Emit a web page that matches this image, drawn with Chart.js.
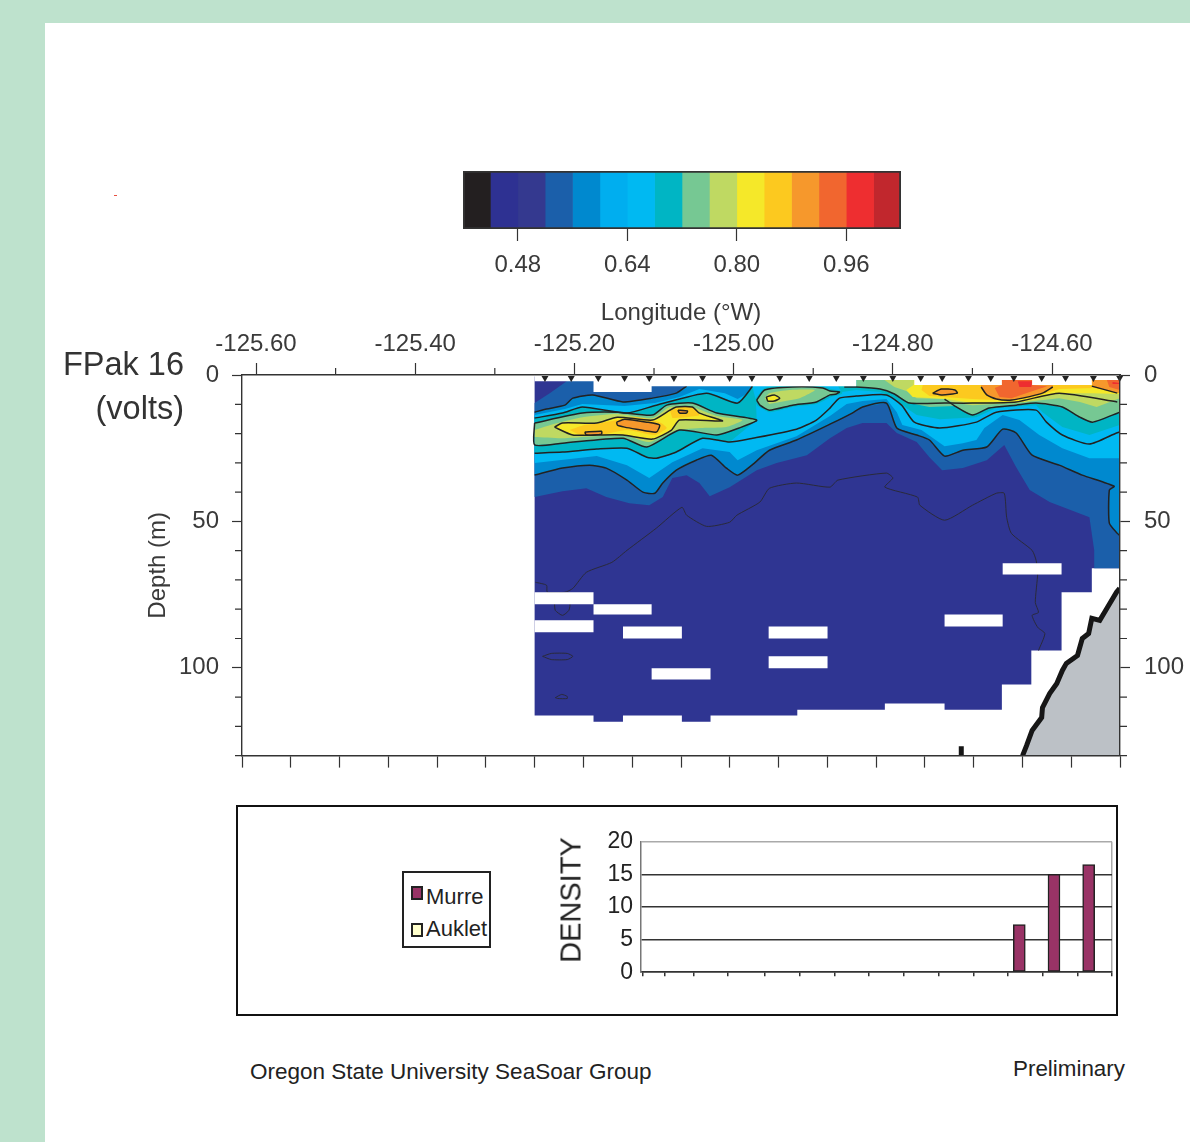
<!DOCTYPE html>
<html>
<head>
<meta charset="utf-8">
<title>FPak 16 section</title>
<script src="https://cdn.jsdelivr.net/npm/chart.js@4"></script>
<style>
  html, body { margin: 0; padding: 0; background: #bee2cd; }
  body { position: relative; width: 1190px; height: 1142px; overflow: hidden; font-family: "Liberation Sans", sans-serif; }
  #panel { position: absolute; left: 45px; top: 23px; width: 1145px; height: 1119px; background: #fff; }
  canvas, .txt, #box, #legend { position: absolute; }
  .txt { white-space: nowrap; line-height: 1; }
  #box { left: 236px; top: 805px; width: 880px; height: 209px; border: 2px solid #111; box-sizing: content-box; width: 878px; height: 207px; }
  #legend { left: 402px; top: 871px; width: 85px; height: 73px; border: 2px solid #222; background: #fff; }
  #legend i { position: absolute; left: 7px; width: 8px; height: 10px; border: 2px solid #222; }
  #legend span { position: absolute; left: 22px; font-size: 22px; color: #222; line-height: 1; }
</style>
</head>
<body>
<div id="panel"></div>
<div id="box"></div>
<canvas id="colorbar" width="490" height="140" style="left:440px;top:150px"></canvas>
<canvas id="section" width="1190" height="494" style="left:0;top:290px"></canvas>
<canvas id="density" width="565" height="174" style="left:550px;top:820px"></canvas>
<div id="legend"></div>
<div class="txt" style="right:1006px;top:348px;font-size:32.5px;color:#333">FPak 16</div>
<div class="txt" style="right:1006px;top:392px;font-size:32.5px;color:#333">(volts)</div>
<div class="txt" style="left:571px;top:899.5px;font-size:29px;color:#222;transform:translate(-50%,-50%) rotate(-90deg)">DENSITY</div>
<div class="txt" style="left:250px;top:1061px;font-size:22.5px;color:#222">Oregon State University SeaSoar Group</div>
<div class="txt" style="left:1013px;top:1058px;font-size:22.4px;color:#222">Preliminary</div>
<div style="position:absolute;left:114px;top:195px;width:3px;height:1px;background:#e85040"></div>

<script>
// colour scale
const levelEdges = [0.40, 0.44, 0.48, 0.52, 0.56, 0.60, 0.64, 0.68, 0.72, 0.76, 0.80, 0.84, 0.88, 0.92, 0.96, 1.00, 1.04];
const levelColors = ['#231f20', '#2e3192', '#34398f', '#1b5faa', '#0089cf', '#00aeef', '#00b9f2', '#00b5c4',
  '#76c893', '#bfd962', '#f5e829', '#fcc91f', '#f6982c', '#f1662f', '#ee2e30', '#c1272d'];
const colorbarTicks = [0.48, 0.64, 0.80, 0.96];

// section axes
const lonTicks = [-125.6, -125.4, -125.2, -125.0, -124.8, -124.6];
const lonMinorTicks = [-125.5, -125.3, -125.1, -124.9, -124.7];
const depthTicks = [0, 50, 100];
const depthMinorTicks = [10, 20, 30, 40, 60, 70, 80, 90, 110, 120, 130];
const stationLon = [-125.237, -125.204, -125.170, -125.137, -125.106, -125.075, -125.039, -125.005, -124.977, -124.942,
  -124.905, -124.871, -124.837, -124.800, -124.765, -124.738, -124.705, -124.677, -124.648, -124.613, -124.583, -124.548, -124.515];

// where the tow has data
const dataExtent = [[-125.25, 0.5], [-124.515, 0.5], [-124.515, 66.0], [-124.550, 66.0], [-124.550, 74.2], [-124.588, 74.2],
  [-124.588, 94.1], [-124.626, 94.1], [-124.626, 105.7], [-124.663, 105.7], [-124.663, 114.3], [-124.735, 114.3], [-124.735, 112.2],
  [-124.810, 112.2], [-124.810, 114.3], [-124.920, 114.3], [-124.920, 116.3], [-125.029, 116.3], [-125.029, 118.4], [-125.065, 118.4],
  [-125.065, 116.3], [-125.139, 116.3], [-125.139, 118.4], [-125.176, 118.4], [-125.176, 116.3], [-125.25, 116.3]];
const aboveData = [[-125.25, 2.1], [-125.176, 2.1], [-125.176, 5.8], [-125.103, 5.8], [-125.103, 3.8], [-124.846, 3.8], [-124.846, 1.7],
  [-124.773, 1.7], [-124.773, 3.4], [-124.663, 3.4], [-124.663, 1.7], [-124.625, 1.7], [-124.625, 3.4], [-124.550, 3.4], [-124.550, 1.7],
  [-124.515, 1.7], [-124.515, 0.2], [-125.25, 0.2]];
const gapLonStart = [-125.25, -125.25, -125.176, -125.139, -125.103, -124.956, -124.956, -124.662, -124.735];
const gapLonEnd = [-125.176, -125.176, -125.103, -125.065, -125.029, -124.882, -124.882, -124.588, -124.662];
const gapDepthTop = [74.2, 83.8, 78.3, 85.9, 100.2, 85.9, 96.1, 64.3, 81.8];
const gapDepthBottom = [78.3, 87.9, 81.8, 90.0, 104.0, 90.0, 100.2, 68.1, 85.9];

// band edges, lon / depth
const blueTop = [[-125.25, 9.6], [-125.231, 6.2], [-125.204, 1.0], [-124.515, 1.0], [-124.515, 66.0]];
const blueBottom = [[-125.25, 41.7], [-125.215, 39.7], [-125.185, 38.7], [-125.160, 41.7], [-125.131, 43.8], [-125.106, 44.5], [-125.089, 41.7],
  [-125.077, 35.2], [-125.059, 34.2], [-125.043, 36.9], [-125.030, 41.4], [-125.005, 38.3], [-124.971, 32.5], [-124.946, 30.1], [-124.908, 27.4],
  [-124.879, 21.6], [-124.858, 18.1], [-124.838, 16.4], [-124.808, 16.4], [-124.795, 19.8], [-124.770, 22.9], [-124.754, 28.1], [-124.738, 32.5],
  [-124.712, 31.8], [-124.682, 29.1], [-124.660, 23.9], [-124.645, 31.5], [-124.628, 39.3], [-124.603, 43.4], [-124.553, 48.6], [-124.547, 59.9], [-124.547, 66.0]];
const midTop = [[-125.25, 12.7], [-125.235, 11.6], [-125.212, 10.3], [-125.202, 7.9], [-125.177, 6.8], [-125.139, 9.2], [-125.102, 7.9], [-125.072, 6.2], [-125.059, 3.8]];
const midTopRest = [[-125.059, 1.0], [-124.515, 1.0], [-124.515, 54.8]];
const midBottom = [[-125.25, 34.2], [-125.215, 31.8], [-125.181, 30.8], [-125.160, 31.8], [-125.134, 35.9], [-125.114, 40.0], [-125.099, 40.4], [-125.089, 36.9],
  [-125.072, 32.5], [-125.047, 29.1], [-125.028, 27.4], [-125.009, 31.8], [-124.995, 34.2], [-124.977, 30.8], [-124.955, 25.7], [-124.921, 22.2], [-124.879, 16.8],
  [-124.851, 13.0], [-124.838, 10.9], [-124.808, 9.6], [-124.795, 18.1], [-124.770, 20.5], [-124.754, 22.2], [-124.735, 27.7], [-124.712, 25.7], [-124.682, 24.6],
  [-124.662, 18.5], [-124.645, 19.8], [-124.625, 27.4], [-124.591, 30.8], [-124.562, 34.2], [-124.522, 38.0], [-124.528, 39.3], [-124.528, 50.6], [-124.518, 54.1], [-124.515, 54.8]];
const cyanBand = [[-125.25, 13.7], [-125.212, 11.6], [-125.190, 9.9], [-125.137, 10.6], [-125.099, 9.6], [-125.068, 7.5], [-125.043, 4.8], [-125.011, 6.2], [-124.995, 8.2],
  [-124.982, 6.2], [-124.976, 3.4], [-124.976, 1.0], [-124.515, 1.0], [-124.515, 28.4], [-124.553, 28.4], [-124.587, 25.0], [-124.616, 20.5], [-124.641, 15.4], [-124.662, 13.7],
  [-124.685, 18.1], [-124.695, 22.2], [-124.712, 23.3], [-124.735, 24.3], [-124.764, 18.8], [-124.788, 17.1], [-124.795, 12.7], [-124.808, 8.2], [-124.838, 8.9], [-124.858, 9.9],
  [-124.879, 14.0], [-124.921, 20.9], [-124.971, 25.7], [-124.995, 29.1], [-125.005, 26.3], [-125.039, 25.0], [-125.077, 29.8], [-125.106, 35.2], [-125.134, 30.8], [-125.172, 27.7], [-125.25, 30.1]];
const tealTop = [[-125.25, 14.7], [-125.215, 13.0], [-125.190, 10.9], [-125.134, 13.0], [-125.097, 10.3], [-125.034, 6.2], [-124.995, 9.6], [-124.977, 4.1], [-124.977, 3.4]];
const tealTip = [[-124.972, 8.6], [-124.971, 15.4]];
const cyanContour = [[-125.25, 26.7], [-125.215, 26.3], [-125.172, 25.3], [-125.134, 25.0], [-125.109, 28.1], [-125.097, 28.4], [-125.072, 26.3], [-125.039, 21.6], [-125.005, 22.9],
  [-124.976, 21.6], [-124.921, 18.5], [-124.896, 15.4], [-124.879, 11.3], [-124.867, 7.9], [-124.846, 7.2], [-124.808, 6.8], [-124.789, 10.3], [-124.773, 16.1], [-124.741, 18.1],
  [-124.695, 16.1], [-124.670, 12.7], [-124.620, 12.0], [-124.607, 16.1], [-124.587, 20.5], [-124.553, 23.6], [-124.519, 19.8], [-124.515, 19.5]];
const tealEast = [[-124.869, 3.8], [-124.515, 1.0], [-124.515, 17.1], [-124.553, 20.5], [-124.587, 17.8], [-124.612, 12.7], [-124.620, 10.3], [-124.670, 11.3], [-124.695, 14.4],
  [-124.741, 15.1], [-124.770, 13.7], [-124.783, 11.3], [-124.798, 7.9], [-124.816, 5.8], [-124.846, 5.1], [-124.864, 5.8]];
const greenEast = [[-124.846, 1.0], [-124.515, 1.0], [-124.515, 12.7], [-124.549, 16.1], [-124.565, 14.4], [-124.587, 10.9], [-124.620, 9.6], [-124.645, 10.3], [-124.679, 11.3],
  [-124.700, 13.7], [-124.722, 10.6], [-124.754, 10.9], [-124.779, 9.6], [-124.798, 6.5], [-124.816, 4.8], [-124.846, 4.1]];
const limeEast = [[-124.814, 1.0], [-124.515, 1.0], [-124.515, 7.9], [-124.544, 10.9], [-124.565, 9.2], [-124.591, 7.9], [-124.645, 9.6], [-124.700, 10.3], [-124.722, 9.6],
  [-124.735, 8.2], [-124.770, 7.9], [-124.783, 5.5], [-124.798, 4.1]];
const yellowEast = [[-124.773, 1.0], [-124.515, 1.0], [-124.515, 6.5], [-124.549, 6.2], [-124.591, 6.2], [-124.637, 9.2], [-124.700, 9.6], [-124.733, 8.2], [-124.775, 7.5], [-124.783, 5.1], [-124.774, 3.4]];
const amberEast = [[-124.760, 1.0], [-124.515, 1.0], [-124.515, 6.2], [-124.547, 4.4], [-124.591, 4.8], [-124.628, 7.9], [-124.662, 8.6], [-124.700, 8.2], [-124.754, 7.2], [-124.764, 5.1]];
const orangeEastEdge = [[-124.599, 4.1], [-124.612, 6.2], [-124.637, 7.9], [-124.653, 8.6], [-124.670, 8.2], [-124.682, 6.8], [-124.689, 4.1]];
const orangeEastTop = [[-124.689, 1.0], [-124.599, 1.0]];
const orangeSpot = [[-124.750, 6.2], [-124.739, 4.8], [-124.722, 5.1], [-124.719, 6.2], [-124.738, 6.8]];
const orangeCorner = [[-124.550, 1.0], [-124.515, 1.0], [-124.515, 6.2], [-124.549, 4.1]];
const hotCentre = [[-124.663, 1.0], [-124.625, 1.0], [-124.625, 3.4], [-124.606, 3.8], [-124.628, 5.8], [-124.651, 7.9], [-124.666, 7.5], [-124.672, 4.4], [-124.663, 3.4]];
const redCentre = [[-124.643, 2.1], [-124.625, 2.1], [-124.626, 4.1], [-124.641, 4.1]];
const hotCorner = [[-124.532, 1.0], [-124.515, 1.0], [-124.515, 5.1], [-124.528, 4.1]];
const redCorner = [[-124.524, 2.4], [-124.515, 2.7], [-124.515, 3.1], [-124.524, 3.1]];

// subsurface maximum, west side
const greenWest = [[-125.25, 16.4], [-125.190, 13.0], [-125.146, 12.7], [-125.102, 13.7], [-125.084, 10.3], [-125.052, 9.6], [-125.021, 13.0], [-124.971, 15.4], [-124.993, 18.1],
  [-125.021, 20.5], [-125.068, 18.8], [-125.109, 24.6], [-125.139, 21.6], [-125.215, 23.3], [-125.25, 23.9]];
const limeWest = [[-125.25, 18.8], [-125.227, 16.8], [-125.190, 14.4], [-125.146, 13.3], [-125.102, 14.7], [-125.080, 10.9], [-125.052, 10.9], [-125.021, 14.0], [-124.989, 15.4],
  [-125.009, 17.8], [-125.039, 18.1], [-125.072, 18.8], [-125.106, 22.9], [-125.139, 20.5], [-125.215, 21.6], [-125.25, 21.2]];
const yellowWest = [[-125.225, 17.8], [-125.215, 16.4], [-125.172, 16.4], [-125.146, 14.4], [-125.102, 15.4], [-125.080, 12.0], [-125.072, 10.9], [-125.052, 10.9], [-125.043, 13.0],
  [-125.014, 15.7], [-125.068, 15.4], [-125.078, 18.8], [-125.102, 21.9], [-125.139, 20.5], [-125.172, 20.5], [-125.202, 20.5]];
const amberWest = [[-125.206, 18.8], [-125.187, 17.1], [-125.166, 16.4], [-125.146, 15.4], [-125.122, 14.4], [-125.093, 16.1], [-125.084, 18.1], [-125.099, 20.5], [-125.134, 18.8], [-125.168, 20.5], [-125.193, 20.5]];
const amberNorth = [[-125.080, 12.0], [-125.064, 10.9], [-125.049, 11.3], [-125.043, 13.7], [-125.059, 14.4], [-125.077, 14.7]];
const orangeWest = [[-125.147, 16.1], [-125.137, 15.1], [-125.109, 16.1], [-125.093, 17.1], [-125.097, 19.5], [-125.122, 18.5], [-125.137, 17.8], [-125.146, 17.1]];
const orangeWestSmall = [[-125.187, 19.5], [-125.166, 19.2], [-125.166, 20.2], [-125.185, 20.5]];
const orangeNorth = [[-125.070, 12.0], [-125.058, 12.3], [-125.059, 13.0], [-125.068, 13.0]];

// patch near the surface at -124.92
const patchTeal = [[-124.974, 8.6], [-124.961, 4.4], [-124.926, 3.4], [-124.888, 3.8], [-124.877, 4.8], [-124.864, 5.5], [-124.864, 6.5], [-124.877, 7.5], [-124.896, 9.9], [-124.926, 10.9], [-124.955, 12.7], [-124.970, 10.6]];
const patchGreen = [[-124.971, 8.6], [-124.961, 5.1], [-124.926, 4.1], [-124.888, 4.4], [-124.879, 5.5], [-124.867, 5.8], [-124.871, 6.5], [-124.879, 6.8], [-124.896, 9.2], [-124.926, 10.3], [-124.955, 12.0], [-124.967, 10.3]];
const patchLime = [[-124.961, 7.9], [-124.955, 6.2], [-124.930, 5.1], [-124.898, 5.1], [-124.917, 7.9], [-124.942, 9.2], [-124.955, 9.9]];
const patchYellow = [[-124.959, 7.5], [-124.949, 6.8], [-124.942, 7.9], [-124.949, 8.9], [-124.957, 8.9]];

// other contours
const contourShallow = [[-124.861, 4.1], [-124.846, 4.1], [-124.816, 4.8], [-124.798, 6.5], [-124.779, 9.6], [-124.735, 9.6], [-124.700, 9.6], [-124.645, 9.2], [-124.591, 6.2], [-124.518, 9.2]];
const contourEast = [[-124.735, 8.2], [-124.722, 10.6], [-124.700, 13.7], [-124.679, 11.3], [-124.645, 10.3], [-124.620, 9.6], [-124.587, 10.9], [-124.565, 14.4], [-124.549, 16.1], [-124.515, 12.7]];
const contourCorner = [[-124.550, 3.8], [-124.518, 6.2]];
const contourDeep = [[-125.249, 70.8], [-125.235, 71.8], [-125.234, 74.2], [-125.212, 74.2], [-125.202, 72.9], [-125.185, 67.4], [-125.153, 64.0], [-125.134, 59.9], [-125.097, 52.3], [-125.065, 45.2],
  [-125.059, 47.9], [-125.034, 51.7], [-125.005, 50.3], [-124.996, 47.9], [-124.967, 43.4], [-124.955, 38.7], [-124.921, 36.9], [-124.879, 38.3], [-124.869, 35.9], [-124.808, 33.5], [-124.800, 35.2],
  [-124.810, 38.3], [-124.769, 41.7], [-124.766, 44.5], [-124.735, 49.6], [-124.700, 44.5], [-124.670, 40.4], [-124.660, 40.4], [-124.657, 48.6], [-124.651, 54.1], [-124.625, 59.9], [-124.620, 63.3],
  [-124.618, 67.7], [-124.621, 77.7], [-124.617, 81.1], [-124.625, 82.1], [-124.618, 86.2], [-124.609, 88.3], [-124.617, 94.1]];
const contourShield = [[-125.225, 78.0], [-125.206, 78.0], [-125.207, 80.4], [-125.215, 82.1], [-125.224, 80.4]];
const contourOval = [[-125.240, 96.1], [-125.229, 95.1], [-125.209, 95.1], [-125.202, 96.1], [-125.209, 97.2], [-125.229, 97.2]];
const contourSmall = [[-125.224, 110.2], [-125.216, 109.1], [-125.209, 109.8], [-125.209, 110.5], [-125.221, 110.5]];

// sea floor
const bottomEdge = [[-124.637, 130], [-124.632, 126.6], [-124.625, 121.4], [-124.613, 117.0], [-124.612, 113.6], [-124.603, 108.8], [-124.594, 105.4], [-124.587, 100.9], [-124.582, 98.5],
  [-124.568, 95.8], [-124.562, 90.0], [-124.554, 88.3], [-124.550, 83.1], [-124.540, 83.8], [-124.531, 79.7], [-124.519, 74.2], [-124.515, 72.9]];
const bottomCorner = [[-124.515, 130]];
const bottomSpeck = [[-124.714, 126.8], [-124.714, 130]];

// bird counts
const seriesNames = ['Murre', 'Auklet'];
const seriesColors = ['#993366', '#ffffcc'];
const densityStations = [0.5, 1.5, 2.5, 3.5, 4.5, 5.5, 6.5, 7.5, 8.5, 9.5, 10.5, 11.5, 12.5];
const murreDensity = [0, 0, 0, 0, 0, 0, 0, 0, 0, 0, 7.3, 15, 16.5];
const aukletDensity = [0, 0, 0, 0, 0, 0, 0, 0, 0, 0, 0, 0, 0];
const densityXTicks = [-0.52, 0.1, 0.95, 1.93, 3, 4, 5, 6, 7, 8, 9, 10, 11, 12, 13];

const FONT = '"Liberation Sans", sans-serif';
const AXIS = '#333';
const TEXT = '#3a3a3a';
const setTicks = list => scale => { scale.ticks = list.map(value => ({ value })); };
const closed = a => a.concat([a[0]]);
const rev = a => a.slice().reverse();

// colour bar
new Chart(document.getElementById('colorbar'), {
  type: 'bar',
  data: {
    labels: ['FPak'],
    datasets: levelColors.map((c, i) => ({
      data: [[levelEdges[i], levelEdges[i + 1]]], backgroundColor: c, barPercentage: 1, categoryPercentage: 1, order: 1
    })).concat([{
      data: [[levelEdges[0], levelEdges[levelEdges.length - 1]]], backgroundColor: 'transparent',
      borderColor: '#333', borderWidth: 1.5, borderSkipped: false, barPercentage: 1, categoryPercentage: 1, order: 0
    }])
  },
  options: {
    indexAxis: 'y', responsive: false, animation: false, events: [],
    layout: { padding: { left: 23, right: 29, top: 21, bottom: 0 } },
    plugins: { legend: { display: false }, tooltip: { enabled: false } },
    scales: {
      y: { display: false, stacked: true },
      x: {
        min: 0.40, max: 1.04,
        afterBuildTicks: setTicks(colorbarTicks),
        afterFit: s => { s.height = 61; },
        grid: { drawOnChartArea: false, tickLength: 12, tickColor: AXIS, tickWidth: 1.2 },
        border: { display: false },
        ticks: { autoSkip: false, maxRotation: 0, padding: 10, color: TEXT, font: { family: FONT, size: 24 }, callback: v => v.toFixed(2) }
      }
    }
  }
});

// section
function area(poly, color, tension) {
  return { data: poly.map(([x, y]) => ({ x, y })), showLine: true, fill: 'shape', backgroundColor: color, borderWidth: 0, pointRadius: 0, tension: tension || 0, xAxisID: 'lon', yAxisID: 'depth' };
}
function contour(path, width, color) {
  return { data: path.map(([x, y]) => ({ x, y })), showLine: true, fill: false, borderColor: color || '#222', borderWidth: width || 1.5, pointRadius: 0, tension: 0.2, xAxisID: 'lon', yAxisID: 'depth' };
}
const layers = [
  area(dataExtent, '#2f3592'),
  area(blueTop.concat(rev(blueBottom)), levelColors[3]),
  area(midTop.concat(midTopRest, rev(midBottom)), levelColors[4]),
  area(cyanBand, levelColors[6]),
  area(tealTop.concat(tealTip, rev(cyanContour.slice(0, 9))), levelColors[7]),
  area(tealEast, levelColors[7]),
  area(patchTeal, levelColors[7], 0.2),
  area(greenEast, levelColors[8]),
  area(limeEast, levelColors[9]),
  area(yellowEast, levelColors[10]),
  area(amberEast, levelColors[11]),
  area(orangeEastTop.concat(orangeEastEdge), levelColors[12]),
  area(orangeSpot, levelColors[12], 0.2),
  area(orangeCorner, levelColors[12]),
  area(hotCentre, levelColors[13]),
  area(redCentre, levelColors[14]),
  area(hotCorner, levelColors[13]),
  area(redCorner, levelColors[14]),
  area(greenWest, levelColors[8], 0.2),
  area(limeWest, levelColors[9], 0.2),
  area(yellowWest, levelColors[10], 0.2),
  area(amberWest, levelColors[11], 0.2),
  area(amberNorth, levelColors[11], 0.2),
  area(orangeWest, levelColors[12], 0.2),
  area(orangeWestSmall, levelColors[12]),
  area(orangeNorth, levelColors[12]),
  area(patchGreen, levelColors[8], 0.2),
  area(patchLime, levelColors[9], 0.2),
  area(patchYellow, levelColors[10]),
  contour(midBottom), contour(cyanContour), contour(midTop), contour(tealTop),
  contour(closed(greenWest)), contour(closed(yellowWest)), contour(closed(orangeWest)), contour(closed(orangeWestSmall)), contour(closed(orangeNorth)),
  contour(closed(patchGreen)), contour(closed(patchYellow)),
  contour(contourShallow), contour(contourEast), contour(contourCorner), contour(orangeEastEdge), contour(closed(orangeSpot)),
  contour(contourDeep, 1, '#2a2a3a'), contour(closed(contourShield), 1, '#2a2a3a'), contour(closed(contourOval), 1, '#2a2a3a'), contour(closed(contourSmall), 1, '#2a2a3a')
];
gapLonStart.forEach((x0, i) => {
  const x1 = gapLonEnd[i], d0 = gapDepthTop[i], d1 = gapDepthBottom[i];
  layers.push(area([[x0, d0], [x1, d0], [x1, d1], [x0, d1]], '#fff'));
});
layers.push(area(aboveData, '#fff'));
layers.push(area(bottomEdge.concat(bottomCorner), '#bcc1c6'));
layers.push({ ...contour(bottomEdge, 5, '#161616'), tension: 0 });
layers.push({ ...contour(bottomSpeck, 5, '#161616'), tension: 0 });
layers.push({
  data: stationLon.map(x => ({ x, y: 1 })), pointStyle: 'triangle', rotation: 180, pointRadius: 4,
  backgroundColor: '#222', borderWidth: 0, clip: false, xAxisID: 'lon', yAxisID: 'depth'
});
layers.forEach((d, i) => { d.order = layers.length - i; });

// shorter ticks in between the labelled ones
const minorTickMarks = {
  id: 'minorTickMarks',
  afterDraw(chart) {
    const { ctx, scales: { lon, depth }, chartArea: a } = chart;
    ctx.save();
    ctx.strokeStyle = AXIS;
    ctx.lineWidth = 1.2;
    ctx.beginPath();
    lonMinorTicks.forEach(v => {
      const x = lon.getPixelForValue(v);
      ctx.moveTo(x, a.top); ctx.lineTo(x, a.top - 7);
    });
    depthMinorTicks.forEach(v => {
      const y = depth.getPixelForValue(v);
      ctx.moveTo(a.left, y); ctx.lineTo(a.left - 7, y);
      ctx.moveTo(a.right, y); ctx.lineTo(a.right + 7, y);
    });
    ctx.stroke();
    ctx.restore();
  }
};
const sectionGrid = { drawOnChartArea: false, tickColor: AXIS, tickWidth: 1.2, z: 1 };
const sectionBorder = { color: AXIS, width: 1.4, z: 1 };

new Chart(document.getElementById('section'), {
  type: 'scatter',
  data: { datasets: layers },
  plugins: [minorTickMarks],
  options: {
    responsive: false, animation: false, events: [],
    plugins: { legend: { display: false }, tooltip: { enabled: false } },
    scales: {
      lon: {
        type: 'linear', axis: 'x', position: 'top', min: -125.6176, max: -124.5146,
        afterBuildTicks: setTicks(lonTicks),
        afterFit: s => { s.height = 85; },
        title: { display: true, text: 'Longitude (°W)', color: TEXT, font: { family: FONT, size: 24 }, padding: { top: 9, bottom: 0 } },
        grid: { ...sectionGrid, tickLength: 12 },
        border: sectionBorder,
        ticks: { autoSkip: false, maxRotation: 0, padding: 4, color: TEXT, font: { family: FONT, size: 24 }, callback: v => v.toFixed(2) }
      },
      km: {
        type: 'linear', axis: 'x', position: 'bottom', min: 0, max: 90,
        afterFit: s => { s.height = 25; },
        grid: { ...sectionGrid, tickLength: 12 },
        border: sectionBorder,
        ticks: { display: false, stepSize: 5, autoSkip: false }
      },
      depth: {
        type: 'linear', axis: 'y', position: 'left', reverse: true, min: 0, max: 130,
        afterBuildTicks: setTicks(depthTicks),
        afterFit: s => { s.width = 242; },
        title: { display: true, text: 'Depth (m)', color: TEXT, font: { family: FONT, size: 24 }, padding: { top: 144, bottom: 0 } },
        grid: { ...sectionGrid, tickLength: 10 },
        border: sectionBorder,
        ticks: { padding: 13, color: TEXT, font: { family: FONT, size: 24 } }
      },
      depthRight: {
        type: 'linear', axis: 'y', position: 'right', reverse: true, min: 0, max: 130,
        afterBuildTicks: setTicks(depthTicks),
        afterFit: s => { s.width = 70; },
        grid: { ...sectionGrid, tickLength: 10 },
        border: sectionBorder,
        ticks: { padding: 14, color: TEXT, font: { family: FONT, size: 24 } }
      }
    }
  }
});

// legend, built from the series names
const legendBox = document.getElementById('legend');
seriesNames.forEach((name, i) => {
  legendBox.insertAdjacentHTML('beforeend',
    `<i style="top:${[13, 50][i]}px;background:${seriesColors[i]}"></i><span style="top:${[13, 45][i]}px">${name}</span>`);
});

// density bars
const seriesValues = [murreDensity, aukletDensity];
new Chart(document.getElementById('density'), {
  type: 'bar',
  data: {
    datasets: seriesNames.map((name, i) => ({
      label: name,
      data: densityStations.map((x, k) => ({ x, y: seriesValues[i][k] })),
      backgroundColor: seriesColors[i], borderColor: '#222', borderWidth: 1.5, borderSkipped: false,
      barThickness: 12
    }))
  },
  options: {
    responsive: false, animation: false, events: [],
    layout: { padding: { top: 19.5, right: 3 } },
    plugins: { legend: { display: false }, tooltip: { enabled: false } },
    scales: {
      x: {
        type: 'linear', offset: false, min: -0.58, max: 13,
        afterBuildTicks: setTicks(densityXTicks),
        afterFit: s => { s.height = 18; },
        grid: { offset: false, color: c => (c.tick && c.tick.value === 13 ? '#aaa' : 'transparent'), tickColor: '#333', tickLength: 4, lineWidth: 1.5 },
        border: { color: '#333', width: 1.5 },
        ticks: { display: false, autoSkip: false }
      },
      y: {
        min: 0, max: 20,
        afterBuildTicks: setTicks([0, 5, 10, 15, 20]),
        afterFit: s => { s.width = 91; },
        grid: { color: c => (c.tick.value === 20 ? '#aaa' : '#333'), lineWidth: 1.5, drawTicks: false },
        border: { color: '#777', width: 1.5 },
        ticks: { padding: 8, color: '#222', font: { family: FONT, size: 23 } }
      }
    }
  }
});
</script>
</body>
</html>
